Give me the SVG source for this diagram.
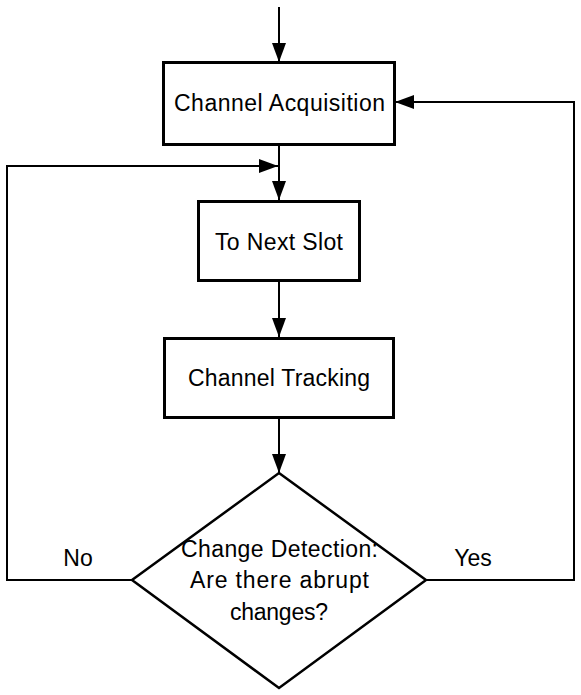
<svg xmlns="http://www.w3.org/2000/svg" width="581" height="695" viewBox="0 0 581 695">
<style>
.box{fill:#fff;stroke:#000;stroke-width:3}
.dia{fill:#fff;stroke:#000;stroke-width:2.5}
.lbl{font-family:"Liberation Sans",Arial,sans-serif;font-size:23px;fill:#000;text-anchor:middle}
.edge{fill:none;stroke:#000;stroke-width:2}
</style>
<defs>
<marker id="arr" markerUnits="userSpaceOnUse" markerWidth="19" markerHeight="14" refX="19" refY="7" orient="auto">
<path d="M0,0 L19,7 L0,14 z" fill="#000"/>
</marker>
</defs>
<g id="connectors">
<line class="edge" x1="279" y1="7" x2="279" y2="62" marker-end="url(#arr)"/>
<line class="edge" x1="279" y1="145" x2="279" y2="200" marker-end="url(#arr)"/>
<line class="edge" x1="279" y1="281" x2="279" y2="337" marker-end="url(#arr)"/>
<line class="edge" x1="279" y1="418" x2="279" y2="473" marker-end="url(#arr)"/>
<polyline class="edge" points="132,580 7,580 7,166 278,166" marker-end="url(#arr)"/>
<polyline class="edge" points="426,580 574,580 574,102 395,102" marker-end="url(#arr)"/>
<text class="lbl" x="78" y="566">No</text>
<text class="lbl" x="473" y="566">Yes</text>
</g>
<g id="acq">
<rect class="box" x="163.5" y="62.5" width="231" height="82"/>
<text class="lbl" x="279.5" y="111" textLength="211" lengthAdjust="spacing">Channel Acquisition</text>
</g>
<g id="next">
<rect class="box" x="198.5" y="201.5" width="161" height="79"/>
<text class="lbl" x="279" y="250" textLength="128" lengthAdjust="spacing">To Next Slot</text>
</g>
<g id="track">
<rect class="box" x="164.5" y="338.5" width="229" height="79"/>
<text class="lbl" x="279" y="386" textLength="182" lengthAdjust="spacing">Channel Tracking</text>
</g>
<g id="detect">
<polygon class="dia" points="279,473 426,580 279,688 132,580"/>
<text class="lbl" x="279.5" y="557" textLength="197" lengthAdjust="spacing">Change Detection:</text>
<text class="lbl" x="279.5" y="588" textLength="179" lengthAdjust="spacing">Are there abrupt</text>
<text class="lbl" x="279" y="620" textLength="98" lengthAdjust="spacing">changes?</text>
</g>
</svg>
